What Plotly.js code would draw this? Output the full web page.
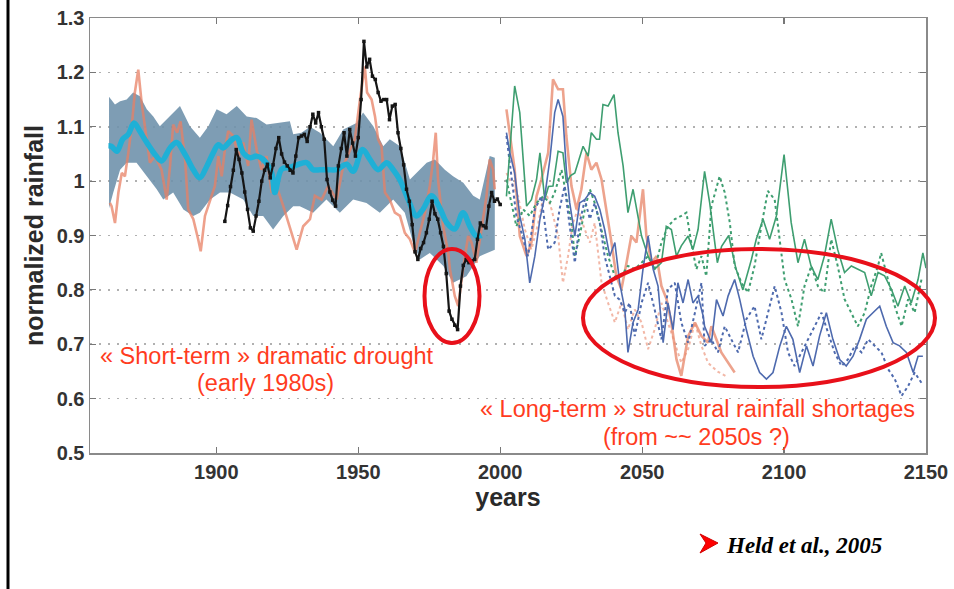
<!DOCTYPE html>
<html>
<head>
<meta charset="utf-8">
<script src="https://cdn.plot.ly/plotly-3.0.1.min.js"></script>
<style>html,body{margin:0;padding:0;background:#fff;}#chart{width:954px;height:589px;}</style>
</head>
<body>
<div id="chart"></div>
<script>
// ---------- DATA ----------
const yTickVals = [0.5, 0.6, 0.7, 0.8, 0.9, 1.0, 1.1, 1.2, 1.3];
const yTickText = ['0.5', '0.6', '0.7', '0.8', '0.9', '1', '1.1', '1.2', '1.3'];
const xTickVals = [1900, 1950, 2000, 2050, 2100, 2150];
const xTickText = ['1900', '1950', '2000', '2050', '2100', '2150'];

// model ensemble spread (historical), upper and lower bounds
const bandUpperYears = [1862.2,1864.3,1866.1,1868.4,1870.7,1873.1,1875.5,1877.8,1880.1,1883.7,1887.2,1890.7,1894.2,1897.2,1900.1,1903.6,1907.2,1910.7,1914.2,1917.7,1921.2,1925.9,1927.1,1930,1933,1936.5,1941.2,1944.7,1949.4,1951.7,1955.3,1958.8,1961.1,1964.7,1968.2,1970.5,1974.1,1977,1980.5,1983.4,1987,1990.5,1992.8,1996.3,1998.1];
const bandUpperVals = [1.155,1.141,1.147,1.150,1.163,1.156,1.132,1.119,1.101,1.119,1.138,1.101,1.080,1.101,1.132,1.123,1.138,1.119,1.116,1.104,1.107,1.110,1.086,1.089,1.100,1.089,1.064,1.095,1.107,1.126,1.101,1.064,1.077,1.064,1.003,1.015,1.034,1.040,1.021,1.009,0.997,0.973,0.966,1.046,1.043];
const bandLowerYears = [1862.2,1863.7,1866.1,1868.4,1871.9,1875.5,1879,1881.3,1884.8,1888.4,1891.9,1894.2,1897.8,1901.3,1904.8,1909.5,1913,1916.5,1920,1923.6,1927.1,1929.4,1931.8,1934.1,1938.8,1943.5,1948.2,1952.9,1957.6,1962.3,1966.4,1969.3,1971.7,1975.2,1980,1983.4,1988.1,1992.8,1998.1];
const bandLowerVals = [0.950,0.979,1.021,1.034,1.034,1.009,0.985,0.966,0.979,0.948,0.936,0.942,0.966,0.979,0.979,0.966,0.936,0.936,0.911,0.936,0.954,0.954,0.948,0.942,0.966,0.942,0.966,0.960,0.942,0.966,0.942,0.887,0.856,0.868,0.844,0.813,0.825,0.862,0.874];

// ensemble mean (historical)
const meanYears = [1862,1863,1865,1867,1869,1871,1873,1875.5,1878.4,1880.7,1883.7,1886,1889,1891.9,1894.2,1896.6,1898.9,1900.7,1902.4,1904.8,1907.2,1909.5,1911.8,1914.2,1916.5,1919.5,1920.6,1923,1925.9,1928.5,1931.8,1934.1,1936.5,1939.4,1942.4,1945.9,1948.2,1951.5,1954.1,1957,1960,1962.3,1964.6,1967.6,1970.5,1972.8,1975.8,1978.7,1981.1,1984,1986.9,1989.3,1991.6,1993.5];
const meanVals = [1.065,1.064,1.055,1.077,1.086,1.107,1.092,1.071,1.049,1.037,1.061,1.071,1.049,1.021,1.006,1.027,1.052,1.067,1.061,1.073,1.080,1.052,1.043,1.046,1.040,1.015,0.979,1.022,1.025,1.030,1.034,1.021,1.021,1.021,1.021,1.031,1.018,1.058,1.040,1.021,1.034,1.021,1.003,0.966,0.936,0.948,0.973,0.951,0.924,0.912,0.942,0.917,0.899,0.900];

// single model run (historical)
const runHistYears = [1862.5,1863.1,1864.3,1865.5,1866.7,1867.8,1869,1870.2,1871.3,1872.5,1873.7,1874.9,1876.6,1878.4,1880.7,1882.5,1883.7,1884.8,1886.2,1887.4,1889,1890.1,1891.9,1893.6,1894.5,1896,1897.8,1899.5,1900.7,1901.9,1903,1904.2,1906,1907.7,1909.5,1911.2,1912.4,1914.2,1915.9,1917.7,1919.5,1921.2,1923.6,1925.9,1927.7,1928.3,1930.6,1933,1934.7,1937.1,1939.4,1942.4,1944.7,1947.1,1948.8,1950.6,1952.3,1953.1,1954.7,1955.9,1957,1958.2,1959.4,1961.1,1962.9,1964.7,1966.4,1968.2,1970,1971.7,1973.5,1975.2,1976.4,1977.3,1978.1,1979.9,1981.7,1982.3,1984,1985.2,1986.9,1988.7,1989.9,1991.6,1993.4,1995.2,1996.3,1997.5,1998.1];
const runHistVals = [0.960,0.954,0.923,0.979,1.015,1.009,1.052,1.101,1.163,1.205,1.144,1.101,1.034,1.046,1.021,0.966,1.028,1.104,1.089,1.110,1.040,0.948,0.930,0.893,0.871,0.936,0.966,0.991,1.046,1.009,1.058,1.092,1.083,1.046,1.071,1.028,1.113,1.058,1.021,1.046,0.979,0.991,0.954,0.917,0.887,0.874,0.917,0.930,0.973,0.966,0.991,0.966,1.028,1.058,1.077,1.150,1.211,1.163,1.150,1.119,1.077,1.064,0.979,0.966,0.942,0.936,0.905,0.893,0.868,0.905,0.942,0.991,1.040,1.089,1.003,0.917,0.868,0.838,0.789,0.770,0.838,0.899,0.887,0.850,0.911,0.973,1.040,1.021,0.985];

// observed rainfall, 1903-2000
const obsStartYear = 1903;
const obsVals = [0.926,0.955,0.990,1.020,1.058,1.040,1.015,0.980,0.948,0.914,0.908,0.936,0.963,1.000,1.020,1.031,1.006,1.030,1.060,1.080,1.050,1.035,1.028,1.020,1.015,1.046,1.080,1.083,1.086,1.073,1.100,1.123,1.107,1.126,1.100,1.077,1.003,0.980,0.965,0.954,1.028,1.060,1.089,1.046,1.095,1.070,1.046,1.080,1.150,1.257,1.210,1.224,1.193,1.187,1.163,1.147,1.150,1.150,1.113,1.138,1.141,1.089,1.060,1.030,0.985,0.963,0.920,0.870,0.856,0.876,0.887,0.905,0.930,0.963,0.940,0.930,0.905,0.880,0.830,0.761,0.746,0.735,0.727,0.807,0.845,0.856,0.850,0.853,0.856,0.893,0.923,0.918,0.914,0.954,0.979,0.963,0.967,0.957];

// projections (2000-2150)
const greenSolidYears = [2002.2,2005.1,2006.9,2009.3,2011,2012.8,2014,2015.7,2017,2018.6,2020.4,2022.1,2023.3,2024.8,2026.3,2028,2029.2,2031,2032.1,2033.9,2035,2036.2,2038,2040.1,2041.5,2043.3,2045,2046.8,2048.6,2049.8,2052.1,2054.4,2056.8,2058.5,2060.3,2062.1,2063.8,2066.2,2067.9,2069.7,2072,2073.8,2076.5,2078,2080.5,2083,2085.5,2088.5,2090.2,2092.6,2094.9,2097.3,2100,2102.5,2104.9,2107.2,2109.5,2111.9,2114.2,2116.6,2118.9,2121.3,2123.7,2126,2128.4,2130.7,2133.1,2135.4,2137.8,2140.1,2142.5,2144.8,2147.2,2148.9,2150];
const greenSolidVals = [0.972,1.175,1.126,0.954,0.966,1.003,1.052,0.966,0.990,0.991,1.055,1.052,0.997,1.010,1.015,1.046,1.064,1.046,1.089,1.077,1.077,1.141,1.138,1.159,1.089,1.028,0.942,0.985,0.936,0.899,0.862,0.838,0.850,0.917,0.911,0.862,0.881,0.899,0.874,0.911,1.018,0.960,0.850,0.880,0.900,0.840,0.800,0.856,0.893,0.930,0.893,0.936,1.049,0.924,0.850,0.893,0.844,0.819,0.862,0.930,0.874,0.832,0.844,0.838,0.832,0.789,0.832,0.826,0.801,0.770,0.807,0.776,0.819,0.868,0.840];
const greenDotYears = [2002.2,2004,2005.7,2008.1,2010.4,2012.8,2015.1,2017.5,2019.2,2021.6,2023.3,2025.1,2026.3,2028,2029.8,2031.6,2033.3,2035.7,2038,2040.4,2042.7,2045,2047.4,2049.8,2052.1,2054.4,2056.8,2059.1,2061.5,2063.8,2065.6,2067.3,2069.1,2070.9,2072.6,2074.4,2077.3,2079.1,2080.9,2082.6,2085,2087.3,2089.6,2092,2094.3,2096.7,2098.5,2100.2,2102.6,2104.9,2107.2,2109.6,2111.9,2114.2,2116.6,2118.9,2121.3,2123.7,2126,2128.4,2130.7,2133.1,2134.2,2136.6,2139,2141.4,2143.7,2146,2148.4];
const greenDotVals = [1.003,0.960,0.917,0.948,0.936,0.960,0.972,0.960,0.979,1.021,0.972,0.923,0.862,0.899,0.948,0.985,0.960,0.911,0.862,0.825,0.825,0.844,0.838,0.850,0.862,0.838,0.887,0.917,0.930,0.936,0.942,0.887,0.838,0.862,0.825,0.954,1.009,0.979,0.923,0.844,0.813,0.795,0.844,0.917,0.982,0.966,0.893,0.819,0.783,0.733,0.807,0.844,0.807,0.795,0.893,0.844,0.783,0.758,0.733,0.758,0.807,0.844,0.868,0.819,0.770,0.733,0.783,0.758,0.819];
const blueSolidYears = [2002.2,2003.4,2005.1,2006.9,2008.7,2010.4,2012.2,2014,2015.7,2017.5,2019.2,2020.4,2022.1,2023.3,2024.5,2026.3,2028,2029.8,2031.6,2033.3,2035.1,2036.8,2038.6,2040.4,2042.1,2043.9,2045,2046.8,2048.6,2050.3,2052.1,2053.9,2055.6,2057.4,2059.1,2060.9,2062.6,2064.4,2066.2,2067.9,2069.7,2071.5,2072,2074.4,2076.2,2078.5,2080.3,2082.6,2084.4,2086.7,2089.1,2091.4,2093.8,2096.1,2098.5,2100.8,2103.1,2105.5,2107.9,2110.2,2112.5,2114.9,2117.2,2119.6,2121.9,2124.3,2126.6,2129,2131.3,2133.7,2136,2138.4,2140.7,2143.1,2145.5,2147.2,2148.9];
const blueSolidVals = [1.089,1.052,1.015,0.936,0.893,0.813,0.862,0.930,0.972,1.040,1.126,1.150,1.119,1.021,0.960,0.899,0.960,0.966,0.979,0.972,0.948,0.911,0.862,0.887,0.813,0.764,0.685,0.740,0.764,0.838,0.899,0.838,0.807,0.703,0.776,0.727,0.813,0.776,0.819,0.776,0.789,0.752,0.733,0.703,0.782,0.752,0.789,0.819,0.782,0.727,0.678,0.648,0.636,0.648,0.697,0.733,0.709,0.648,0.697,0.660,0.715,0.758,0.709,0.672,0.660,0.678,0.709,0.746,0.758,0.770,0.733,0.703,0.697,0.685,0.648,0.678,0.678];
const blueDotYears = [2002.2,2004,2005.7,2007.5,2009.8,2012.2,2014.5,2016.9,2019.2,2020.9,2022.7,2024.5,2026.3,2028,2029.8,2031.6,2033.3,2035.1,2036.8,2038.6,2040.4,2042.1,2043.9,2045.6,2047.4,2049.8,2052.1,2054.4,2056.8,2059.1,2061.5,2063.8,2066.2,2068.6,2070.9,2072,2074.4,2076.7,2079.1,2081.4,2083.8,2086.7,2089.6,2092,2094.3,2096.7,2099.1,2101.4,2103.7,2106.1,2108.5,2110.8,2113.2,2115.5,2117.8,2120.2,2122.5,2124.9,2127.3,2129.6,2131.9,2134.3,2136.7,2139,2141.4,2143.7,2146,2148.4];
const blueDotVals = [1.083,1.009,0.936,0.905,0.862,0.948,0.972,0.874,0.887,0.948,0.991,0.917,0.850,0.923,0.966,0.930,0.960,0.923,0.862,0.825,0.789,0.782,0.758,0.776,0.715,0.776,0.813,0.764,0.709,0.801,0.813,0.740,0.703,0.758,0.813,0.697,0.709,0.685,0.733,0.709,0.685,0.746,0.770,0.709,0.758,0.807,0.758,0.685,0.660,0.685,0.709,0.733,0.758,0.721,0.685,0.660,0.672,0.697,0.685,0.709,0.697,0.685,0.654,0.636,0.605,0.623,0.648,0.629];
const salmonSolidYears = [2002.2,2003.4,2005.1,2006.9,2009.3,2011,2012.8,2014.5,2016.9,2018.6,2020.4,2022.1,2023.3,2025.1,2026.9,2028.6,2030.4,2032.1,2033.9,2035.7,2037.4,2039.2,2040.9,2042.7,2044.5,2046.2,2048,2050.3,2051.5,2053.3,2055.1,2056.8,2058.6,2060.3,2062.1,2063.8,2066.2,2068.6,2070.9,2073.2,2074.4,2077.9,2082.6];
const salmonSolidVals = [1.132,1.083,1.021,0.899,0.862,0.887,0.972,1.003,1.052,1.187,1.169,1.169,1.083,0.991,0.948,0.985,1.052,1.021,1.034,1.003,0.948,0.887,0.825,0.801,0.850,0.899,0.887,0.985,0.899,0.850,0.862,0.807,0.783,0.740,0.672,0.642,0.715,0.740,0.715,0.703,0.733,0.685,0.648];
const salmonDotYears = [2002.2,2006.3,2008.7,2011,2013.4,2015.7,2018.1,2020.4,2022.1,2023.9,2025.6,2027.4,2029.8,2031.6,2033.3,2035.7,2038,2040.4,2042.7,2045,2047.4,2049.8,2052.1,2054.4,2056.8,2059.1,2061.5,2063.8,2066.2,2068.6,2070.9,2073.2,2076.5,2080];
const salmonDotVals = [1.015,0.972,0.911,0.874,0.923,0.985,0.948,0.899,0.813,0.862,0.923,0.948,0.911,0.887,0.923,0.813,0.776,0.740,0.776,0.727,0.764,0.740,0.691,0.727,0.776,0.740,0.703,0.666,0.691,0.740,0.697,0.666,0.650,0.640];

// ---------- TRACES ----------
const obsYears = obsVals.map((v, i) => obsStartYear + i);
const bandX = bandUpperYears.concat(bandLowerYears.slice().reverse());
const bandY = bandUpperVals.concat(bandLowerVals.slice().reverse());

const traces = [
  {x: bandX, y: bandY, type: 'scatter', mode: 'lines', fill: 'toself',
   fillcolor: 'rgba(112,146,172,0.9)', line: {width: 0, color: 'rgba(0,0,0,0)'}, hoverinfo: 'skip', name: 'spread'},
  {x: runHistYears, y: runHistVals, type: 'scatter', mode: 'lines',
   line: {color: 'rgba(232,128,100,0.75)', width: 2.6}, name: 'model run'},
  {x: meanYears, y: meanVals, type: 'scatter', mode: 'lines',
   line: {color: '#1fb0d6', width: 5.5, shape: 'spline'}, name: 'mean'},
  {x: obsYears, y: obsVals, type: 'scatter', mode: 'lines+markers',
   line: {color: '#151515', width: 2.2}, marker: {color: '#151515', size: 3.5, symbol: 'square'}, name: 'observed'},
  {x: salmonDotYears, y: salmonDotVals, type: 'scatter', mode: 'lines',
   line: {color: 'rgba(240,170,150,0.85)', width: 2, dash: 'dot'}, name: 'salmon dotted'},
  {x: salmonSolidYears, y: salmonSolidVals, type: 'scatter', mode: 'lines',
   line: {color: 'rgba(232,140,112,0.8)', width: 2.6}, name: 'salmon'},
  {x: greenDotYears, y: greenDotVals, type: 'scatter', mode: 'lines',
   line: {color: '#3e9e70', width: 2, dash: 'dot'}, name: 'green dotted'},
  {x: blueDotYears, y: blueDotVals, type: 'scatter', mode: 'lines',
   line: {color: '#4e6aae', width: 2, dash: 'dot'}, name: 'blue dotted'},
  {x: greenSolidYears, y: greenSolidVals, type: 'scatter', mode: 'lines',
   line: {color: '#3e9e70', width: 1.6}, name: 'green'},
  {x: blueSolidYears, y: blueSolidVals, type: 'scatter', mode: 'lines',
   line: {color: '#4e6aae', width: 1.6}, name: 'blue'}
];

// ---------- LAYOUT ----------
const L = 90, R = 926, T = 18, B = 453;
const px = v => (v - L) / (R - L);
const py = v => (B - v) / (B - T);
const redText = '#ff3c1e';
const sans = 'Liberation Sans, Arial, sans-serif';
const arrowPath = 'M ' + px(700) + ' ' + py(534) + ' L ' + px(718) + ' ' + py(543) +
  ' L ' + px(700) + ' ' + py(553) + ' L ' + px(706) + ' ' + py(543) + ' Z';

const layout = {
  width: 954, height: 589,
  margin: {l: L, r: 954 - R, t: T, b: 589 - B},
  paper_bgcolor: '#ffffff', plot_bgcolor: '#ffffff',
  showlegend: false,
  xaxis: {
    range: [1855.5, 2150], tickvals: xTickVals, ticktext: xTickText,
    showgrid: false, zeroline: false,
    showline: true, linecolor: '#8a8a8a', linewidth: 1.5, mirror: 'ticks',
    ticks: 'inside', ticklen: 6, tickcolor: '#777', tickwidth: 1.2,
    tickfont: {family: sans, size: 20, color: '#333', weight: 'bold'},
    title: {text: 'years', font: {family: sans, size: 25, color: '#2a2a2a', weight: 'bold'}, standoff: 4}
  },
  yaxis: {
    range: [0.5, 1.3], tickvals: yTickVals, ticktext: yTickText,
    showgrid: true, gridcolor: '#b0b0b0', gridwidth: 1.6, griddash: '2px,7px', zeroline: false,
    showline: true, linecolor: '#8a8a8a', linewidth: 1.5, mirror: 'ticks',
    ticks: 'inside', ticklen: 6, tickcolor: '#777', tickwidth: 1.2,
    tickfont: {family: sans, size: 20, color: '#333', weight: 'bold'},
    title: {text: 'normalized rainfall', font: {family: sans, size: 25, color: '#2a2a2a', weight: 'bold'}, standoff: 6}
  },
  shapes: [
    {type: 'line', xref: 'paper', yref: 'paper', x0: px(8), x1: px(8), y0: py(589), y1: py(0),
     line: {color: '#000', width: 3}},
    {type: 'circle', xref: 'paper', yref: 'paper', x0: px(424.5), x1: px(479.5), y0: py(343), y1: py(249),
     line: {color: '#e8101a', width: 4}},
    {type: 'circle', xref: 'paper', yref: 'paper', x0: px(583), x1: px(935), y0: py(387), y1: py(249),
     line: {color: '#e8101a', width: 4}},
    {type: 'path', xref: 'paper', yref: 'paper', path: arrowPath,
     fillcolor: '#ff0000', line: {color: '#d00000', width: 1}}
  ],
  annotations: [
    {text: '« Short-term » dramatic drought', xref: 'paper', yref: 'paper', x: px(267), y: py(356),
     xanchor: 'center', yanchor: 'middle', showarrow: false, font: {family: sans, size: 23.5, color: redText}},
    {text: '(early 1980s)', xref: 'paper', yref: 'paper', x: px(265), y: py(383),
     xanchor: 'center', yanchor: 'middle', showarrow: false, font: {family: sans, size: 23.5, color: redText}},
    {text: '« Long-term » structural rainfall shortages', xref: 'paper', yref: 'paper', x: px(697), y: py(409),
     xanchor: 'center', yanchor: 'middle', showarrow: false, font: {family: sans, size: 23.5, color: redText}},
    {text: '(from ~~ 2050s ?)', xref: 'paper', yref: 'paper', x: px(696), y: py(437),
     xanchor: 'center', yanchor: 'middle', showarrow: false, font: {family: sans, size: 23.5, color: redText}},
    {text: 'Held et al., 2005', xref: 'paper', yref: 'paper', x: px(724), y: py(545),
     xanchor: 'left', yanchor: 'middle', showarrow: false,
     font: {family: 'Liberation Serif, Times New Roman, serif', size: 23, color: '#000', weight: 'bold', style: 'italic'}}
  ]
};

Plotly.newPlot('chart', traces, layout, {displayModeBar: false, staticPlot: true});
</script>
</body>
</html>
